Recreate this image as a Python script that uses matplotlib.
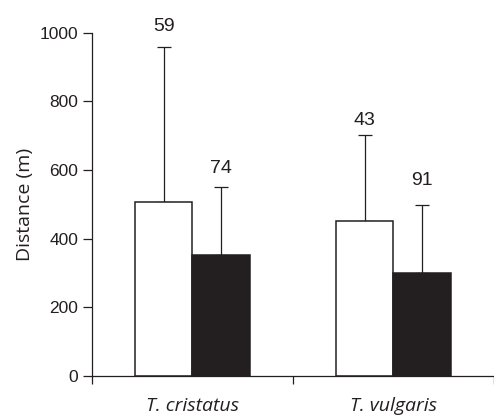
import matplotlib.pyplot as plt
import numpy as np

species = ["T. cristatus", "T. vulgaris"]
white_vals = [508, 452]
white_err = [450, 251]
black_vals = [353, 299]
black_err = [197, 199]
white_n = ["59", "43"]
black_n = ["74", "91"]
# gap in pixels between error cap and the baseline of the n label
white_gap = [16, 10]
black_gap = [14, 20]

plt.rcParams['font.family'] = ['Liberation Sans', 'DejaVu Sans']

fig = plt.figure(figsize=(4.94, 4.19), dpi=100)
ax = fig.add_axes([0.1862, 0.1026, 0.8138, 0.8194])

centers = np.array([0.5, 1.5])
w = 0.286
dark = "#231f20"

ax.bar(centers - w / 2, white_vals, w, color="white", edgecolor=dark, linewidth=1.1, zorder=2)
ax.bar(centers + w / 2, black_vals, w, color=dark, edgecolor=dark, linewidth=1.1, zorder=2)
ax.errorbar(centers - w / 2, white_vals, yerr=[np.zeros(2), white_err], fmt="none",
            ecolor=dark, elinewidth=0.9, capsize=5, capthick=0.9, zorder=1)
ax.errorbar(centers + w / 2, black_vals, yerr=[np.zeros(2), black_err], fmt="none",
            ecolor=dark, elinewidth=0.9, capsize=5, capthick=0.9, zorder=1)

for i in range(2):
    ax.annotate(white_n[i], (centers[i] - w / 2, white_vals[i] + white_err[i]),
                xytext=(0, white_gap[i] * 0.72), textcoords="offset points",
                ha="center", va="baseline", fontsize=14, color=dark)
    ax.annotate(black_n[i], (centers[i] + w / 2, black_vals[i] + black_err[i]),
                xytext=(0, black_gap[i] * 0.72), textcoords="offset points",
                ha="center", va="baseline", fontsize=14, color=dark)

ax.set_ylim(0, 1000)
ax.set_xlim(0, 1.98)
ax.set_yticks([0, 200, 400, 600, 800, 1000])
ax.set_xticks([0, 1, 2])
ax.set_xticklabels([])
ax.set_xticks(centers, minor=True)
ax.set_xticklabels(species, minor=True, fontstyle="italic", fontsize=14, family="Open Sans", color=dark)
ax.tick_params(axis="x", which="minor", length=0, pad=15)
ax.tick_params(axis="x", which="major", length=5.5, width=0.9, color=dark)
ax.tick_params(axis="y", length=6.5, width=0.9, color=dark, labelsize=12.5, labelcolor=dark)
ax.set_ylabel("Distance (m)", fontsize=14, family="Open Sans", color=dark, labelpad=4)

for s in ["top", "right"]:
    ax.spines[s].set_visible(False)
for s in ["left", "bottom"]:
    ax.spines[s].set_linewidth(0.9)
    ax.spines[s].set_color(dark)

fig.savefig("out.png", dpi=100)
